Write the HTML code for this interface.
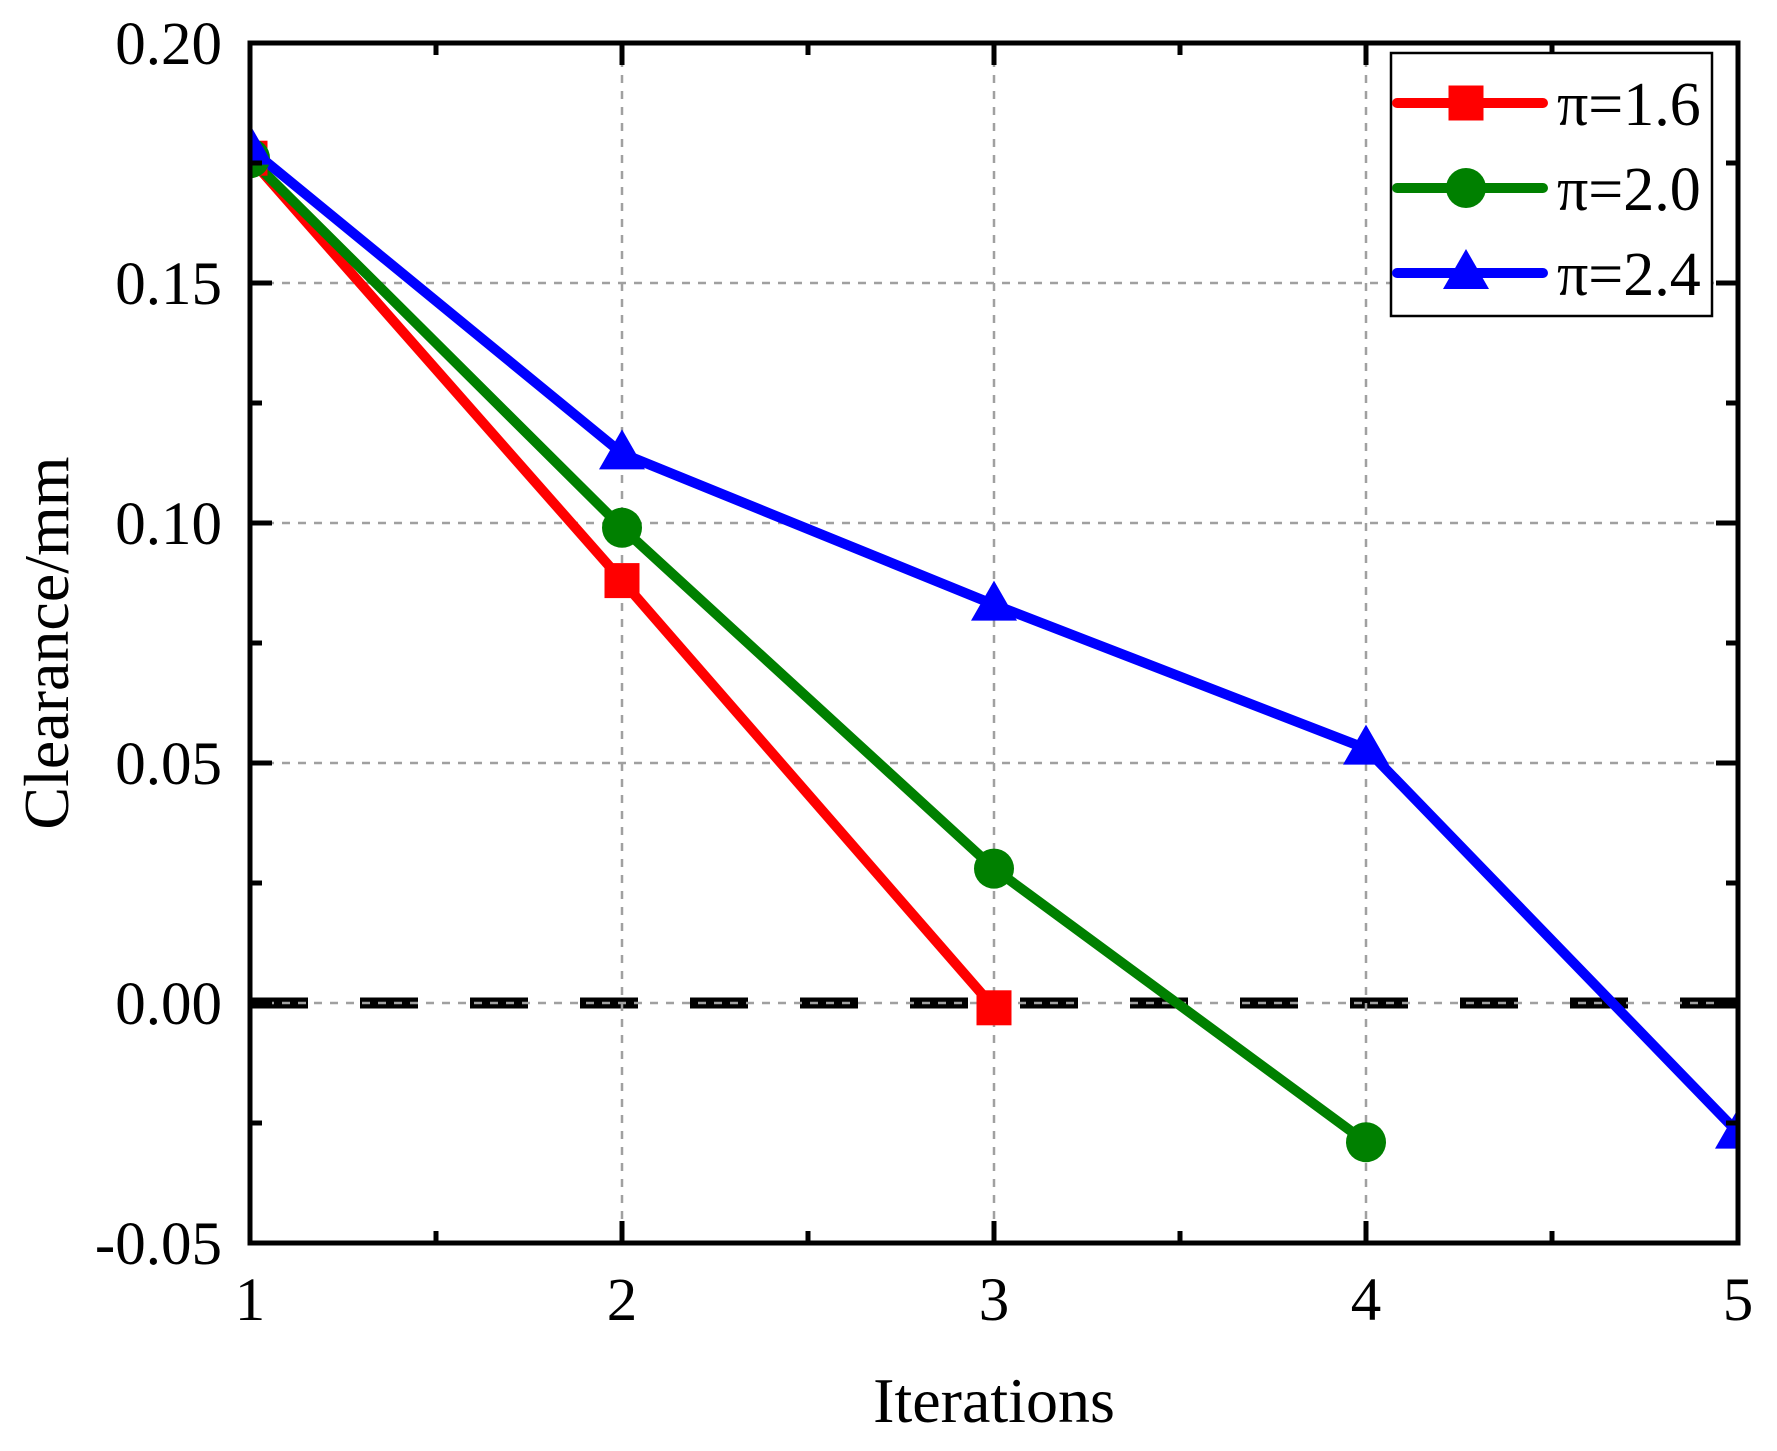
<!DOCTYPE html>
<html><head><meta charset="utf-8"><style>
html,body{margin:0;padding:0;background:#fff;}
svg{display:block;font-family:"Liberation Serif","Times New Roman",serif;}
</style></head><body>
<svg id="chart" width="1777" height="1451" viewBox="0 0 1777 1451" xmlns="http://www.w3.org/2000/svg">
<defs><clipPath id="plotclip"><rect x="250" y="43" width="1488" height="1200"/></clipPath></defs>
<g id="grid"></g>
<g id="zero"></g>
<g id="series" clip-path="url(#plotclip)"></g>
<g id="axes"></g>
<g id="legend"></g>
<text x="994" y="1422" font-size="64" text-anchor="middle">Iterations</text>
<text transform="translate(68,643) rotate(-90)" font-size="64" text-anchor="middle">Clearance/mm</text>
</svg>
<script>
const iterations = [1, 2, 3, 4, 5];
const seriesNames = ["π=1.6", "π=2.0", "π=2.4"];
const valuesPi16 = [0.176, 0.088, -0.001];
const valuesPi20 = [0.176, 0.099, 0.028, -0.029];
const valuesPi24 = [0.178, 0.1145, 0.083, 0.053, -0.027];
const xTicks = [1, 2, 3, 4, 5];
const yTicks = [-0.05, 0, 0.05, 0.10, 0.15, 0.20];
const yTickLabels = ["-0.05", "0.00", "0.05", "0.10", "0.15", "0.20"];

const NS = "http://www.w3.org/2000/svg";
const L = 250, R = 1738, T = 43, B = 1243;
const xS = v => L + (v - 1) / 4 * (R - L);
const yS = v => B - (v + 0.05) / 0.25 * (B - T);
function mk(tag, attrs, parent) {
  const e = document.createElementNS(NS, tag);
  for (const k in attrs) e.setAttribute(k, attrs[k]);
  parent.appendChild(e);
  return e;
}
const grid = document.getElementById('grid');
const axes = document.getElementById('axes');
const series = document.getElementById('series');
const legend = document.getElementById('legend');
const zero = document.getElementById('zero');

let zl = mk('line', {x1: L, x2: R, y1: yS(0), y2: yS(0), stroke: '#000', 'stroke-width': 11, 'stroke-dasharray': '58 52'}, zero);



xTicks.slice(1, 4).forEach(v => {
  const g = mk('line', {x1: xS(v), x2: xS(v), y1: T, y2: B, stroke: '#a0a0a0', 'stroke-width': 2.5, 'stroke-dasharray': '8 8'}, grid);
  
  
});
yTicks.slice(1, 5).forEach(v => {
  const g = mk('line', {x1: L, x2: R, y1: yS(v), y2: yS(v), stroke: '#a0a0a0', 'stroke-width': 2.5, 'stroke-dasharray': '8 8'}, grid);
  
  
});
grid.parentNode.insertBefore(zero, grid);

const colors = ['#ff0000', '#008000', '#0000ff'];
const allVals = [valuesPi16, valuesPi20, valuesPi24];
allVals.forEach((vals, si) => {
  const pts = vals.map((v, i) => xS(iterations[i]) + ',' + yS(v)).join(' ');
  const pl = mk('polyline', {points: pts, fill: 'none', stroke: colors[si], 'stroke-width': 10, 'stroke-linejoin': 'round'}, series);
  
  
});
function marker(si, cx, cy, parent) {
  let e;
  if (si === 0) e = mk('rect', {x: cx - 17.5, y: cy - 17.5, width: 35, height: 35, fill: colors[0]}, parent);
  else if (si === 1) e = mk('circle', {cx: cx, cy: cy, r: 20, fill: colors[1]}, parent);
  else e = mk('polygon', {points: (cx) + ',' + (cy - 24) + ' ' + (cx - 23) + ',' + (cy + 16) + ' ' + (cx + 23) + ',' + (cy + 16), fill: colors[2]}, parent);
  return e;
}
allVals.forEach((vals, si) => {
  vals.forEach((v, i) => {
    const m = marker(si, xS(iterations[i]), yS(v), series);
    
    
  });
});

const fr = mk('rect', {x: L, y: T, width: R - L, height: B - T, fill: 'none', stroke: '#000', 'stroke-width': 5}, axes);


for (let v = 1; v <= 5; v += 0.5) {
  const len = Number.isInteger(v) ? 22 : 12;
  [[B, B - len], [T, T + len]].forEach(([a, b]) => {
    const t = mk('line', {x1: xS(v), x2: xS(v), y1: a, y2: b, stroke: '#000', 'stroke-width': 5}, axes);
    
    
  });
}
xTicks.forEach(v => {
  const t = mk('text', {x: xS(v), y: 1320, 'font-size': 61, 'text-anchor': 'middle'}, axes);
  t.textContent = v;
  
  
});
for (let k = 0; k <= 10; k++) {
  const v = -0.05 + k * 0.025;
  const len = k % 2 === 0 ? 22 : 12;
  [[L, L + len], [R, R - len]].forEach(([a, b]) => {
    const t = mk('line', {x1: a, x2: b, y1: yS(v), y2: yS(v), stroke: '#000', 'stroke-width': 5}, axes);
    
    
  });
}
yTicks.forEach((v, i) => {
  const t = mk('text', {x: 222, y: yS(v) + 21, 'font-size': 61, 'text-anchor': 'end'}, axes);
  t.textContent = yTickLabels[i];
  
  
});

const lb = mk('rect', {x: 1391, y: 53, width: 321, height: 263, fill: '#fff', stroke: '#000', 'stroke-width': 2.5}, legend);


const ly = [103, 188, 273];
seriesNames.forEach((n, si) => {
  const g = mk('g', {}, legend);
  
  
  mk('line', {x1: 1397, x2: 1543, y1: ly[si], y2: ly[si], stroke: colors[si], 'stroke-width': 10, 'stroke-linecap': 'round'}, g);
  marker(si, 1466, ly[si], g);
  const t = mk('text', {x: 1557, y: ly[si] + 22, 'font-size': 62}, g);
  t.textContent = n;
});
</script>
</body></html>
